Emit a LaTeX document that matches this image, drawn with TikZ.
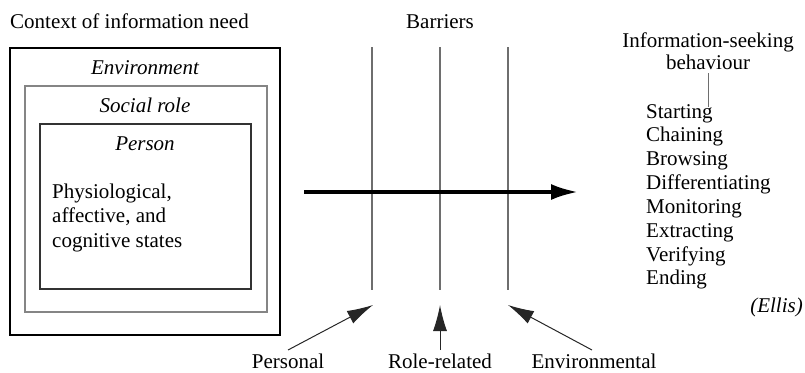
\documentclass[tikz,border=0pt]{standalone}
\usepackage{fontspec}
\newfontfamily\serifface{Liberation Serif}
\usetikzlibrary{arrows.meta}
\definecolor{midgray}{HTML}{858585}
\definecolor{linegray}{HTML}{6E6E6E}
\begin{document}
\begin{tikzpicture}[x=1pt,y=-1pt,
  txt/.style={inner sep=0pt,font=\serifface\fontsize{21}{24.5}\selectfont},
  itxt/.style={inner sep=0pt,font=\serifface\itshape\fontsize{21}{24.5}\selectfont},
  frameouter/.style={draw=black,line width=1.3pt},
  framemid/.style={draw=midgray,line width=1.8pt},
  frameinner/.style={draw=black!80,line width=1.1pt},
  barrier/.style={draw=linegray,line width=1.1pt},
  flow/.style={line width=3.6pt,-{Latex[length=27pt,width=16pt]}},
  push/.style={line width=1pt,draw=black!85,-{Latex[length=26pt,width=14pt]}}]
\useasboundingbox (0,0) rectangle (805,372);

% context of information need: nested frames
\node[txt,anchor=base west] (ctx) at (10,28) {Context of information need};
\draw[frameouter] (10,48) rectangle (280,335);
\draw[framemid] (25,86) rectangle (267,312);
\draw[frameinner] (40,124) rectangle (251,289);
\node[itxt,anchor=base] (env) at (145,74) {Environment};
\node[itxt,anchor=base] (role) at (145,112) {Social role};
\node[itxt,anchor=base] (pers) at (145,150) {Person};
\node[txt,anchor=base west] (st1) at (52,198) {Physiological,};
\node[txt,anchor=base west] (st2) at (52,222.5) {affective, and};
\node[txt,anchor=base west] (st3) at (52,247) {cognitive states};

% barriers
\node[txt,anchor=base] (bar) at (440,28) {Barriers};
\coordinate (b1t) at (372,47); \coordinate (b1b) at (372,290);
\coordinate (b2t) at (440,47); \coordinate (b2b) at (440,290);
\coordinate (b3t) at (508,47); \coordinate (b3b) at (508,290);
\draw[barrier] (b1t) -- (b1b);
\draw[barrier] (b2t) -- (b2b);
\draw[barrier] (b3t) -- (b3b);

% main flow
\coordinate (fs) at (304,192);
\coordinate (fe) at (578,192);
\draw[flow] (fs) -- (fe);

% barrier sources
\node[txt,anchor=base] (lp) at (288,368) {Personal};
\node[txt,anchor=base] (lr) at (440,368) {Role-related};
\node[txt,anchor=base] (le) at (594,368) {Environmental};
\coordinate (pp) at (288,350); \coordinate (pt) at (373,305);
\coordinate (rp) at (440,350); \coordinate (rt) at (440,305);
\coordinate (ep) at (592,350); \coordinate (et) at (508,305);
\draw[push] (pp) -- (pt);
\draw[push] (rp) -- (rt);
\draw[push] (ep) -- (et);

% information-seeking behaviour
\node[txt,anchor=base] (isb1) at (708,47) {Information-seeking};
\node[txt,anchor=base] (isb2) at (708,69) {behaviour};
\coordinate (tk1) at (708,73); \coordinate (tk2) at (708,107);
\draw[barrier,line width=0.9pt] (tk1) -- (tk2);
\foreach \w [count=\i] in {Starting,Chaining,Browsing,Differentiating,Monitoring,Extracting,Verifying,Ending}
  \node[txt,anchor=base west] (beh\i) at (646,{118+23.85*(\i-1)}) {\w};
\node[itxt,anchor=base east] (ellis) at (803,312) {(Ellis)};
\end{tikzpicture}
\end{document}
